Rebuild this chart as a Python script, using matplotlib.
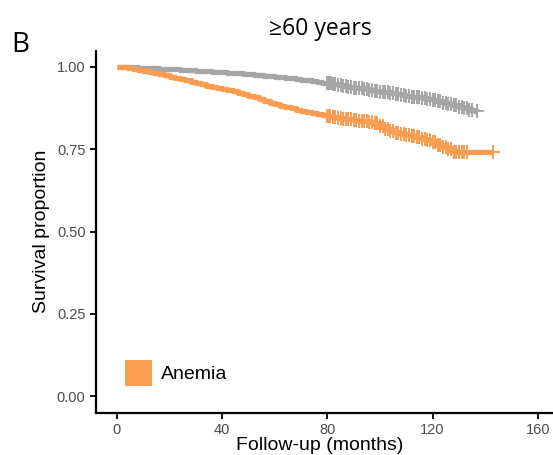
import numpy as np
import matplotlib
matplotlib.use("Agg")
import matplotlib.pyplot as plt
from matplotlib.patches import Patch

# ---- data ----
orange_t = [0, 2, 4, 6, 8, 10, 12, 14, 16, 18, 20, 22, 24, 26, 28, 30, 32, 34, 36, 38,
            40, 42, 44, 46, 48, 50, 52, 54, 56, 58, 60, 62, 64, 66, 68, 70, 72, 74, 76,
            78, 80, 82, 84, 86, 88, 90, 92, 94, 96, 98, 100, 102, 104, 106, 108, 110,
            112, 114, 116, 118, 120, 122, 124, 126, 128, 143]
orange_s = [1.000, 0.999, 0.997, 0.995, 0.992, 0.988, 0.985, 0.982, 0.978, 0.975, 0.971,
            0.966, 0.962, 0.959, 0.955, 0.950, 0.947, 0.943, 0.940, 0.937, 0.933, 0.930,
            0.926, 0.922, 0.918, 0.913, 0.908, 0.903, 0.898, 0.892, 0.887, 0.882, 0.878,
            0.874, 0.870, 0.867, 0.864, 0.861, 0.858, 0.855, 0.851, 0.848, 0.846, 0.843,
            0.841, 0.839, 0.837, 0.835, 0.832, 0.829, 0.822, 0.812, 0.804, 0.800, 0.797,
            0.793, 0.790, 0.786, 0.782, 0.778, 0.772, 0.764, 0.757, 0.750, 0.743, 0.743]
gray_t = [0, 2, 4, 6, 8, 10, 12, 14, 16, 18, 20, 22, 24, 26, 28, 30, 32, 34, 36, 38,
          40, 42, 44, 46, 48, 50, 52, 54, 56, 58, 60, 62, 64, 66, 68, 70, 72, 74, 76,
          78, 80, 82, 84, 86, 88, 90, 92, 94, 96, 98, 100, 102, 104, 106, 108, 110,
          112, 114, 116, 118, 120, 122, 124, 126, 128, 130, 132, 134, 136, 137]
gray_s = [1.000, 0.9995, 0.999, 0.9985, 0.998, 0.997, 0.996, 0.9955, 0.995, 0.994, 0.993,
          0.9925, 0.992, 0.991, 0.990, 0.989, 0.988, 0.987, 0.986, 0.985, 0.984, 0.983,
          0.982, 0.981, 0.980, 0.9785, 0.977, 0.9755, 0.974, 0.9725, 0.971, 0.969, 0.967,
          0.965, 0.963, 0.961, 0.959, 0.957, 0.955, 0.9525, 0.950, 0.9475, 0.945, 0.9425,
          0.940, 0.9375, 0.935, 0.9325, 0.930, 0.9275, 0.925, 0.9225, 0.920, 0.9175,
          0.915, 0.9125, 0.910, 0.9075, 0.905, 0.902, 0.899, 0.8955, 0.892, 0.888, 0.884,
          0.8795, 0.875, 0.8705, 0.866, 0.865]
orange_censor = [80, 80.5, 81, 82, 83, 84, 85, 86, 87, 88, 89, 90, 91, 92, 93, 94, 95,
                 96, 97, 98, 99, 100, 101, 102, 103, 104, 105, 106, 107, 108, 109, 110,
                 111, 112, 113, 114, 115, 116, 117, 118, 119, 120, 121, 122, 123, 124,
                 125, 126, 127, 128, 129, 130, 131, 132, 133, 143]
gray_censor = [80, 80.5, 81, 81.5, 82, 83, 84, 85, 86, 87, 88, 89, 90, 91, 92, 93, 94,
               95, 96, 97, 98, 99, 100, 101, 102, 103, 104, 105, 106, 107, 108, 109, 110,
               111, 112, 113, 114, 115, 116, 117, 118, 119, 120, 121, 122, 123, 124, 125,
               126, 127, 128, 129, 130, 131, 132, 133, 134, 135, 137]
x_ticks = [0, 40, 80, 120, 160]
y_ticks = [0.0, 0.25, 0.5, 0.75, 1.0]
y_ticklabels = ["0.00", "0.25", "0.50", "0.75", "1.00"]
legend_label = "Anemia"

ORANGE = "#F89D51"
GRAY = "#A6A6A6"


def surv_at(times, surv, c):
    t = np.asarray(times)
    s = np.asarray(surv)
    idx = np.searchsorted(t, np.asarray(c), side="right") - 1
    return s[np.clip(idx, 0, len(s) - 1)]


fig = plt.figure(figsize=(5.53, 4.55), dpi=100)
ax = fig.add_axes([0.1735, 0.0934, 0.837, 0.7956])

for t, s, c, col in [(gray_t, gray_s, gray_censor, GRAY),
                     (orange_t, orange_s, orange_censor, ORANGE)]:
    ax.plot(t, s, drawstyle="steps-post", color=col, lw=3.8, solid_capstyle="butt")
    ax.plot(c, surv_at(t, s, c), linestyle="none", marker="+", color=col,
            markersize=9.5, markeredgewidth=1.4)

ax.set_xlim(-8, 168)
ax.set_ylim(-0.05, 1.05)
ax.set_xticks(x_ticks)
ax.set_yticks(y_ticks)
ax.set_yticklabels(y_ticklabels)

for side in ["top", "right"]:
    ax.spines[side].set_visible(False)
for side in ["left", "bottom"]:
    ax.spines[side].set_linewidth(1.6)
ax.tick_params(axis="both", direction="out", length=4.5, width=1.3, color="black",
               labelsize=10.5, labelcolor="#4D4D4D", pad=3)
for lab in ax.get_xticklabels() + ax.get_yticklabels():
    lab.set_fontfamily("Liberation Sans")

ax.set_xlabel("Follow-up (months)", fontsize=14, family="Liberation Sans", labelpad=0)
ax.xaxis.label.set_x(0.484)
ax.set_ylabel("Survival proportion", fontsize=14, family="Liberation Sans", labelpad=5)

fig.text(0.579, 0.937, "≥60 years", ha="center", va="center", fontsize=16.5,
         family=["Open Sans", "DejaVu Sans"])
fig.text(0.036, 0.90, "B", ha="center", va="center", fontsize=20,
         family=["Open Sans", "DejaVu Sans"])

handle = Patch(facecolor=ORANGE, edgecolor="none")
ax.legend([handle], [legend_label], loc="lower left", bbox_to_anchor=(0.024, 0.025),
          frameon=False, handlelength=1.4, handleheight=1.65, handletextpad=0.45,
          prop={"family": "Liberation Sans", "size": 14})

fig.savefig("out.png", dpi=100)
